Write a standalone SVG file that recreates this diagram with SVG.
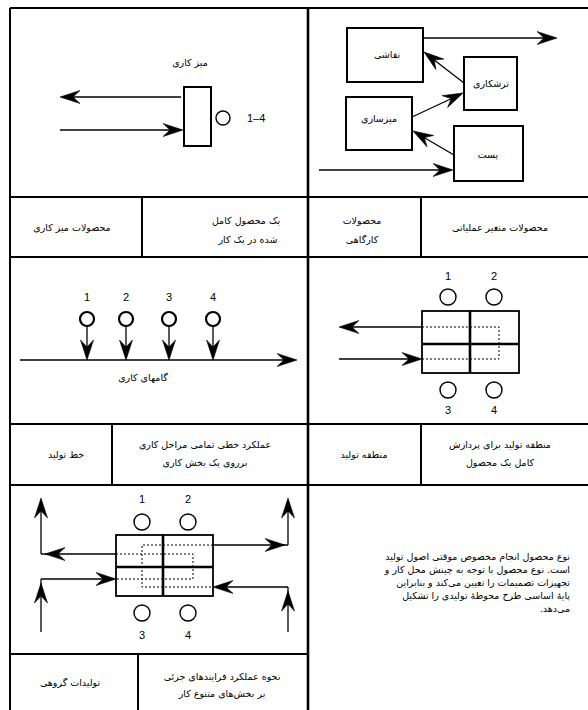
<svg xmlns="http://www.w3.org/2000/svg" xmlns:xlink="http://www.w3.org/1999/xlink" width="588" height="710" viewBox="0 0 588 710">
<style>
.frame{stroke:#000;stroke-width:2;fill:none}
.ln{stroke:#000;stroke-width:1.3;fill:none}
.box{stroke:#000;stroke-width:2;fill:#fff}
.grid{stroke:#000;stroke-width:1.8;fill:#fff}
.thick{stroke:#000;stroke-width:2.6;fill:none}
.dot{stroke:#000;stroke-width:1;fill:none;stroke-dasharray:2 2}
.circ{stroke:#000;stroke-width:1.4;fill:#fff}
.circb{stroke:#000;stroke-width:2.2;fill:#fff}
.fa{font-family:"DejaVu Sans",sans-serif;font-size:9.5px;fill:#000;direction:rtl;unicode-bidi:embed}
.c{text-anchor:middle}
.r{text-anchor:start}
.num{font-family:"Liberation Sans",Arial,sans-serif;font-size:11px;fill:#000;text-anchor:middle}
.head{fill:#000;stroke:#000;stroke-width:0.6;stroke-linejoin:miter}
</style>
<defs>
<path id="ah" d="M0,0 L-20,-6.5 L-13,0 L-20,6.5 Z"/>
</defs>
<rect width="588" height="710" fill="#fff"/>

<g id="frame" class="frame">
<line x1="10" y1="8" x2="588" y2="8"/>
<line x1="10" y1="197" x2="588" y2="197"/>
<line x1="10" y1="257" x2="588" y2="257"/>
<line x1="10" y1="424" x2="588" y2="424"/>
<line x1="10" y1="485" x2="588" y2="485"/>
<line x1="10" y1="654" x2="309" y2="654"/>
<line x1="10" y1="8" x2="10" y2="710"/>
<line x1="308" y1="8" x2="308" y2="710" stroke-width="2.6"/>
<line x1="142" y1="197" x2="142" y2="257"/>
<line x1="421" y1="197" x2="421" y2="257"/>
<line x1="112" y1="424" x2="112" y2="485"/>
<line x1="421" y1="424" x2="421" y2="485"/>
<line x1="138" y1="654" x2="138" y2="710"/>
</g>

<g id="panel-workbench">
<text class="fa c" x="190" y="66">میز کاری</text>
<rect class="box" x="184" y="87" width="27" height="59"/>
<circle class="circ" cx="223" cy="118" r="7"/>
<text x="247" y="122" font-family="Liberation Sans, Arial, sans-serif" font-size="11">1–4</text>
</g>

<g id="node-naghashi"><rect class="box" x="347" y="28" width="76" height="54"/><text class="fa c" x="387" y="58">نقاشی</text></g>
<g id="node-tarashkari"><rect class="box" x="464" y="57" width="53" height="53"/><text class="fa c" x="491" y="87">ترشکاری</text></g>
<g id="node-mizsazi"><rect class="box" x="346" y="97" width="66" height="53"/><text class="fa c" x="379" y="122">میزسازی</text></g>
<g id="node-post"><rect class="box" x="454" y="126" width="69" height="55"/><text class="fa c" x="488" y="158">پست</text></g>

<g id="panel-line">
<text class="num" x="87" y="301">1</text>
<text class="num" x="126" y="301">2</text>
<text class="num" x="169" y="301">3</text>
<text class="num" x="213" y="301">4</text>
<circle class="circb" cx="87" cy="319" r="7"/>
<circle class="circb" cx="126" cy="319" r="7"/>
<circle class="circb" cx="169" cy="319" r="7"/>
<circle class="circb" cx="213" cy="319" r="7"/>
<text class="fa c" x="143" y="381">گامهای کاری</text>
</g>

<g id="panel-area">
<text class="num" x="448" y="280">1</text>
<text class="num" x="494" y="280">2</text>
<circle class="circ" cx="448" cy="297" r="8"/>
<circle class="circ" cx="494" cy="297" r="8"/>
<rect class="grid" x="422" y="311" width="97" height="62"/>
<line class="thick" x1="470" y1="311" x2="470" y2="373"/>
<line class="thick" x1="422" y1="344" x2="519" y2="344"/>
<path class="dot" d="M422,327 H499 V359 H422"/>
<circle class="circ" cx="448" cy="390" r="8"/>
<circle class="circ" cx="494" cy="390" r="8"/>
<text class="num" x="448" y="414">3</text>
<text class="num" x="494" y="414">4</text>
</g>

<g id="panel-group">
<text class="num" x="142" y="503">1</text>
<text class="num" x="188" y="503">2</text>
<circle class="circ" cx="142" cy="522" r="8"/>
<circle class="circ" cx="188" cy="522" r="8"/>
<rect class="grid" x="116" y="535" width="97" height="61"/>
<line class="thick" x1="163" y1="535" x2="163" y2="596"/>
<line class="thick" x1="116" y1="567" x2="213" y2="567"/>
<path class="dot" d="M213,545 H142 V587 H213"/>
<path class="dot" d="M116,554 H193 V579 H116"/>
<circle class="circ" cx="142" cy="613" r="8"/>
<circle class="circ" cx="188" cy="613" r="8"/>
<text class="num" x="142" y="639">3</text>
<text class="num" x="188" y="639">4</text>
</g>

<g id="connectors">
<g class="ln">
<line x1="181" y1="97" x2="66" y2="97"/>
<line x1="60" y1="130" x2="177" y2="130"/>
<line x1="423" y1="38" x2="551" y2="38"/>
<line x1="464" y1="83" x2="429" y2="56"/>
<line x1="412" y1="117" x2="457" y2="96"/>
<line x1="454" y1="155" x2="418" y2="134"/>
<line x1="319" y1="170" x2="447" y2="170"/>
<line x1="87" y1="326" x2="87" y2="354"/>
<line x1="126" y1="326" x2="126" y2="354"/>
<line x1="169" y1="326" x2="169" y2="354"/>
<line x1="213" y1="326" x2="213" y2="354"/>
<line x1="20" y1="360" x2="291" y2="360"/>
<line x1="422" y1="327" x2="345" y2="327"/>
<line x1="339" y1="359" x2="416" y2="359"/>
<line x1="116" y1="554" x2="41" y2="554"/>
<line x1="41" y1="554" x2="41" y2="504"/>
<line x1="213" y1="545" x2="288" y2="545"/>
<line x1="288" y1="545" x2="288" y2="504"/>
<line x1="41" y1="632" x2="41" y2="579"/>
<line x1="41" y1="579" x2="110" y2="579"/>
<line x1="288" y1="632" x2="288" y2="587"/>
<line x1="288" y1="587" x2="219" y2="587"/>
</g>
<g class="head">
<use xlink:href="#ah" transform="translate(60,97) rotate(180)"/>
<use xlink:href="#ah" transform="translate(183,130)"/>
<use xlink:href="#ah" transform="translate(557,38)"/>
<use xlink:href="#ah" transform="translate(424,52) rotate(-142.2)"/>
<use xlink:href="#ah" transform="translate(463,93) rotate(-25.2)"/>
<use xlink:href="#ah" transform="translate(413,131) rotate(-149.7)"/>
<use xlink:href="#ah" transform="translate(453,170)"/>
<use xlink:href="#ah" transform="translate(87,360) rotate(90)"/>
<use xlink:href="#ah" transform="translate(126,360) rotate(90)"/>
<use xlink:href="#ah" transform="translate(169,360) rotate(90)"/>
<use xlink:href="#ah" transform="translate(213,360) rotate(90)"/>
<use xlink:href="#ah" transform="translate(297,360)"/>
<use xlink:href="#ah" transform="translate(339,327) rotate(180)"/>
<use xlink:href="#ah" transform="translate(422,359)"/>
<use xlink:href="#ah" transform="translate(45,554) rotate(180)"/>
<use xlink:href="#ah" transform="translate(41,498) rotate(-90)"/>
<use xlink:href="#ah" transform="translate(285,545)"/>
<use xlink:href="#ah" transform="translate(288,498) rotate(-90)"/>
<use xlink:href="#ah" transform="translate(41,583) rotate(-90)"/>
<use xlink:href="#ah" transform="translate(116,579)"/>
<use xlink:href="#ah" transform="translate(288,591) rotate(-90)"/>
<use xlink:href="#ah" transform="translate(213,587) rotate(180)"/>
</g>
</g>

<g id="labels">
<text class="fa c" x="72" y="231">محصولات میز کاری</text>
<text class="fa c" x="246" y="224">یک محصول کامل</text>
<text class="fa c" x="248" y="243">شده در یک کار</text>
<text class="fa c" x="362" y="224">محصولات</text>
<text class="fa c" x="362" y="243">کارگاهی</text>
<text class="fa c" x="500" y="231">محصولات متغیر عملیاتی</text>
<text class="fa c" x="66" y="458">خط تولید</text>
<text class="fa c" x="205" y="448">عملکرد خطی تمامی مراحل کاری</text>
<text class="fa c" x="205" y="466">برروی یک بخش کاری</text>
<text class="fa c" x="364" y="458">منطقه تولید</text>
<text class="fa c" x="500" y="448">منطقه تولید برای پردازش</text>
<text class="fa c" x="500" y="466">کامل یک محصول</text>
<text class="fa c" x="70" y="686">تولیدات گروهی</text>
<text class="fa c" x="222" y="680">نحوه عملکرد فرایندهای جزئی</text>
<text class="fa c" x="222" y="697">بر بخش‌های متنوع کار</text>
</g>

<g id="paragraph">
<text class="fa r" x="570" y="560">نوع محصول انجام مخصوص موقتی اصول تولید</text>
<text class="fa r" x="570" y="573">است. نوع محصول با توجه به چینش محل کار و</text>
<text class="fa r" x="570" y="586">تجهیزات تصمیمات را تعیین می‌کند و بنابراین</text>
<text class="fa r" x="570" y="599">پایهٔ اساسی طرح محوطهٔ تولیدی را تشکیل</text>
<text class="fa r" x="570" y="612">می‌دهد.</text>
</g>
</svg>
